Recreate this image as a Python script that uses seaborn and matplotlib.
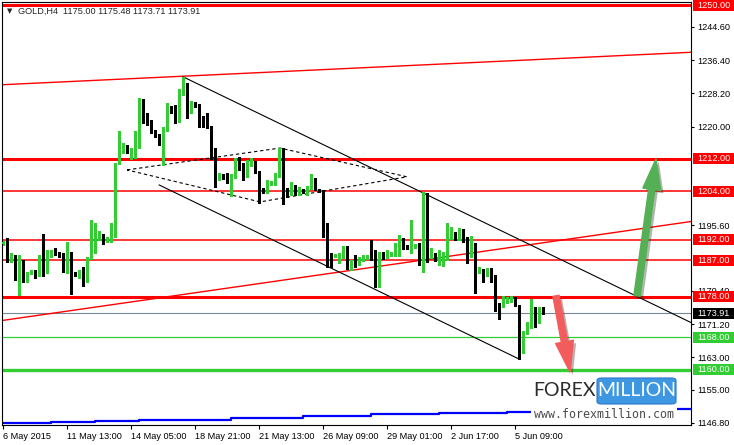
import matplotlib
matplotlib.use("Agg")
import numpy as np
import pandas as pd
import matplotlib.pyplot as plt
import matplotlib.transforms as mtransforms
import matplotlib.patheffects as pe
from matplotlib.patches import FancyArrowPatch, Rectangle, FancyBboxPatch
import seaborn as sns

# GOLD H4 candles, 6 May - 5 Jun 2015
opens = [1191.0, 1191.6, 1187.0, 1187.9, 1182.5, 1185.6, 1182.8, 1183.8, 1184.3, 1183.1,
         1185.8, 1185.8, 1187.9, 1189.5, 1188.9, 1188.7, 1185.2, 1188.9, 1183.9, 1183.1,
         1185.0, 1181.7, 1187.5, 1190.8, 1192.2, 1192.8, 1191.8, 1191.8, 1192.8, 1210.9,
         1214.6, 1215.2, 1213.6, 1214.1, 1216.3, 1224.9, 1222.9, 1220.8, 1219.0, 1217.9,
         1215.7, 1219.0, 1224.3, 1224.0, 1221.5, 1228.8, 1229.0, 1223.4, 1225.6, 1225.3,
         1222.5, 1222.5, 1220.0, 1214.4, 1207.0, 1208.1, 1208.3, 1206.2, 1207.5, 1211.6,
         1209.7, 1209.1, 1210.5, 1211.3, 1208.9, 1204.5, 1203.9, 1205.8, 1206.0, 1207.8,
         1214.4, 1204.3, 1203.5, 1205.3, 1203.7, 1204.5, 1203.7, 1205.0, 1207.0, 1204.5,
         1204.2, 1193.8, 1188.3, 1187.9, 1186.6, 1188.0, 1190.4, 1185.3, 1186.4, 1186.1,
         1187.1, 1187.5, 1188.0, 1187.5, 1181.3, 1188.9, 1187.7, 1188.3, 1188.7, 1189.7,
         1192.0, 1190.5, 1189.1, 1190.2, 1190.8, 1187.1, 1203.7, 1188.3, 1188.5, 1187.5,
         1187.5, 1187.5, 1192.4, 1193.6, 1192.4, 1194.3, 1192.4, 1188.0, 1189.5, 1183.9,
         1184.7, 1183.4, 1184.6, 1182.9, 1175.9, 1175.7, 1176.5, 1177.0, 1177.8, 1175.9,
         1165.0, 1169.0, 1170.4, 1174.5, 1172.9, 1175.00]
highs = [1191.8, 1192.4, 1188.7, 1188.3, 1188.3, 1187.1, 1184.2, 1184.6, 1184.6, 1188.3,
         1193.5, 1189.5, 1189.5, 1189.9, 1189.1, 1188.9, 1191.6, 1189.1, 1184.2, 1184.6,
         1185.4, 1187.7, 1196.9, 1196.1, 1194.1, 1193.5, 1192.7, 1196.1, 1211.1, 1218.8,
         1215.9, 1215.4, 1214.6, 1218.8, 1227.0, 1226.8, 1223.3, 1221.6, 1219.2, 1218.2,
         1219.8, 1225.9, 1225.1, 1225.3, 1229.2, 1232.3, 1230.7, 1226.2, 1226.0, 1225.5,
         1222.6, 1223.4, 1220.1, 1214.6, 1208.5, 1208.3, 1208.5, 1208.3, 1212.2, 1212.6,
         1210.9, 1211.8, 1212.2, 1211.5, 1209.1, 1204.8, 1206.8, 1206.6, 1208.6, 1214.6,
         1214.6, 1204.8, 1206.2, 1205.6, 1205.2, 1204.7, 1205.3, 1208.3, 1207.2, 1204.7,
         1204.3, 1196.1, 1188.7, 1188.5, 1188.7, 1190.4, 1190.5, 1187.1, 1188.3, 1187.9,
         1188.3, 1188.2, 1192.0, 1189.5, 1189.1, 1189.1, 1189.4, 1189.0, 1191.2, 1193.2,
         1192.4, 1190.7, 1196.9, 1191.0, 1191.2, 1203.9, 1203.7, 1189.9, 1188.7, 1189.5,
         1189.1, 1196.1, 1195.1, 1194.0, 1194.9, 1194.6, 1192.8, 1193.0, 1191.2, 1185.4,
         1184.9, 1185.0, 1185.0, 1183.3, 1176.4, 1178.2, 1178.0, 1178.2, 1178.0, 1175.9,
         1169.4, 1171.8, 1177.3, 1175.4, 1175.4, 1175.48]
lows = [1190.8, 1186.6, 1186.6, 1182.1, 1178.4, 1181.7, 1181.7, 1183.6, 1182.5, 1183.0,
        1183.0, 1183.8, 1187.7, 1188.3, 1187.9, 1184.2, 1183.8, 1178.7, 1183.0, 1182.5,
        1180.6, 1181.5, 1187.2, 1188.7, 1192.0, 1191.0, 1191.6, 1191.6, 1192.7, 1210.8,
        1213.6, 1213.4, 1211.9, 1212.2, 1214.6, 1220.8, 1220.4, 1218.3, 1217.5, 1215.5,
        1210.5, 1218.8, 1223.3, 1220.8, 1221.2, 1227.8, 1222.0, 1223.3, 1224.9, 1220.0,
        1220.0, 1219.6, 1211.9, 1205.2, 1206.8, 1207.0, 1206.0, 1202.9, 1207.2, 1209.3,
        1206.8, 1207.6, 1210.3, 1208.5, 1201.2, 1203.5, 1203.5, 1205.6, 1205.6, 1207.6,
        1201.0, 1202.7, 1203.1, 1203.1, 1203.1, 1203.5, 1203.1, 1204.5, 1204.3, 1203.9,
        1192.8, 1185.4, 1185.3, 1187.7, 1186.4, 1187.5, 1184.8, 1184.6, 1185.4, 1185.8,
        1186.9, 1187.2, 1187.1, 1180.5, 1180.3, 1187.3, 1187.5, 1188.1, 1188.0, 1188.0,
        1189.7, 1189.8, 1188.9, 1190.0, 1185.8, 1184.2, 1186.6, 1187.5, 1186.9, 1185.8,
        1185.6, 1187.1, 1192.2, 1192.0, 1192.0, 1191.6, 1186.4, 1187.9, 1179.0, 1183.8,
        1181.5, 1183.1, 1181.7, 1174.5, 1172.6, 1175.4, 1176.4, 1176.8, 1175.7, 1162.5,
        1164.0, 1168.8, 1170.2, 1170.4, 1171.4, 1173.71]
closes = [1191.6, 1187.0, 1188.7, 1182.5, 1185.6, 1182.8, 1184.2, 1184.3, 1183.1, 1185.8,
          1185.7, 1189.1, 1189.1, 1188.7, 1188.2, 1185.4, 1188.9, 1183.8, 1183.6, 1184.2,
          1181.7, 1187.5, 1191.2, 1192.4, 1193.6, 1191.6, 1192.4, 1193.1, 1210.9, 1214.9,
          1215.4, 1213.6, 1214.4, 1216.3, 1224.9, 1222.6, 1220.6, 1218.8, 1217.8, 1215.7,
          1219.0, 1224.3, 1223.5, 1221.5, 1229.0, 1229.0, 1222.3, 1225.3, 1225.1, 1220.1,
          1220.1, 1219.8, 1214.4, 1207.5, 1207.8, 1207.2, 1206.2, 1207.5, 1211.6, 1209.6,
          1209.1, 1210.7, 1211.3, 1208.6, 1203.9, 1203.8, 1206.2, 1206.4, 1208.0, 1211.8,
          1203.9, 1203.5, 1205.8, 1203.9, 1204.5, 1203.7, 1205.2, 1206.8, 1204.5, 1204.2,
          1193.8, 1187.9, 1187.1, 1188.3, 1188.5, 1189.7, 1185.3, 1186.4, 1185.8, 1187.7,
          1187.9, 1188.0, 1187.2, 1181.3, 1188.9, 1187.5, 1188.9, 1188.9, 1189.9, 1192.0,
          1189.9, 1189.9, 1190.5, 1190.8, 1186.2, 1203.9, 1187.5, 1188.9, 1187.9, 1188.0,
          1187.9, 1192.7, 1193.6, 1192.2, 1194.3, 1191.8, 1188.0, 1189.5, 1184.2, 1184.7,
          1183.6, 1184.6, 1182.5, 1175.9, 1175.4, 1177.2, 1177.3, 1177.8, 1175.9, 1165.0,
          1169.4, 1171.4, 1174.5, 1172.9, 1174.7, 1173.91]

# time axis labels (bar index -> label)
xtick_pos = [0, 16, 32, 48, 64, 80, 96, 112, 128]
xtick_labels = ["6 May 2015", "11 May 13:00", "14 May 05:00", "18 May 21:00",
                "21 May 13:00", "26 May 09:00", "29 May 01:00", "2 Jun 17:00", "5 Jun 09:00"]
ytick_vals = [1146.80, 1155.00, 1163.00, 1171.20, 1179.40, 1195.60,
              1220.00, 1228.20, 1236.40, 1244.60]

# horizontal levels
level_prices = [1250.00, 1212.00, 1204.00, 1192.00, 1187.00, 1178.00, 1168.00, 1160.00]
level_colors = ["#ff0000"] * 6 + ["#32cd32"] * 2
level_widths = [2.2, 2.2, 1.1, 1.1, 1.1, 2.2, 0.9, 2.4]

# trend lines (bar index, price)
red_up_x, red_up_y = [-1, 173], [1230.3, 1238.4]
red_low_x, red_low_y = [-1, 173], [1172.0, 1196.7]
chan_top_x, chan_top_y = [45, 172], [1232.3, 1171.6]
chan_bot_x, chan_bot_y = [39, 129], [1205.6, 1162.6]
diamond_x = [31, 69.25, 101, 64.25, 31]
diamond_y = [1209.3, 1214.7, 1207.6, 1201.4, 1209.3]

# slow moving average (blue)
ma_x = [-1, 12, 23, 34, 46, 57, 75, 92, 109, 126, 145, 168, 173]
ma_y = [1146.8, 1147.05, 1147.25, 1147.45, 1147.65, 1148.0, 1148.5, 1148.9, 1149.2,
        1149.45, 1149.8, 1150.2, 1150.3]

# forecast arrows (tail, head)
green_arrow = [(158.5, 1178.2), (163.25, 1212.0)]
red_arrow = [(138.25, 1178.2), (141.75, 1159.4)]

sns.set_style("white")
plt.rcParams["font.family"] = ["Liberation Sans", "DejaVu Sans"]

W, H = 734, 445
fig = plt.figure(figsize=(W / 100, H / 100), dpi=100)
ax = fig.add_axes([2 / W, 1 - 425 / H, 689 / W, 423 / H])
ax.set_xlim(-0.25, 172)
ax.set_ylim(1146.3, 1250.77)

df = pd.DataFrame({"o": opens, "h": highs, "l": lows, "c": closes})
df["i"] = np.arange(len(df))
up = df["c"] >= df["o"]
cols = np.where(up, "#32cd32", "#000000")

# horizontal levels
for p, col, lw in zip(level_prices, level_colors, level_widths):
    ax.axhline(p, color=col, lw=lw, zorder=1)
ax.axhline(closes[-1], color="#778899", lw=0.8, zorder=1)

# trend lines
ax.plot(red_up_x, red_up_y, color="#ff0000", lw=1.0, zorder=1)
ax.plot(red_low_x, red_low_y, color="#ff0000", lw=1.0, zorder=1)
ax.plot(chan_top_x, chan_top_y, color="black", lw=0.8, zorder=1)
ax.plot(chan_bot_x, chan_bot_y, color="black", lw=0.8, zorder=1)
ax.plot(diamond_x, diamond_y, color="black", lw=0.8, ls=(0, (3, 2.5)), zorder=1)

sns.lineplot(x=ma_x, y=ma_y, ax=ax, color="#0000ff", lw=1.6, drawstyle="steps-post",
             zorder=1)

# candles
ax.vlines(df["i"], df["l"], df["h"], colors=cols, lw=0.75, antialiased=False, zorder=2)
body_lo = np.minimum(df["o"], df["c"])
body_h = np.maximum(np.abs(df["c"] - df["o"]), 0.25)
ax.bar(df["i"], body_h, bottom=body_lo, width=0.75, color=cols, linewidth=0,
       antialiased=False, zorder=3)

# arrows
for (tail, head), col in [(green_arrow, "#55b055"), (red_arrow, "#f25c5c")]:
    arr = FancyArrowPatch(tail, head, arrowstyle="simple,head_length=2.2,head_width=1.3,tail_width=0.45",
                          mutation_scale=10, color=col, shrinkA=0, shrinkB=0, zorder=6,
                          path_effects=[pe.SimplePatchShadow(offset=(2, -2), alpha=0.35),
                                        pe.Normal()])
    ax.add_patch(arr)

# axes styling
for s in ax.spines.values():
    s.set_color("black")
    s.set_linewidth(0.8)
ax.yaxis.tick_right()
ax.set_yticks(ytick_vals)
ax.set_yticklabels([f"{v:.2f}" for v in ytick_vals])
ax.set_xticks(xtick_pos)
ax.set_xticklabels(xtick_labels, ha="left")
ax.tick_params(axis="y", direction="out", length=2.5, width=0.8, pad=2,
               labelsize=6.6, colors="black", right=True, left=False)
ax.tick_params(axis="x", direction="out", length=3, width=0.8, pad=2,
               labelsize=6.6, colors="black", bottom=True)
ax.set_xlabel("")
ax.set_ylabel("")

# price boxes on the right scale
blend = mtransforms.blended_transform_factory(ax.transAxes, ax.transData)
box_x0 = (693 - 2) / 689
box_w = 41 / 689
half = 5.5 / 4.049
box_prices = level_prices + [closes[-1]]
box_colors = level_colors[:]
box_colors.append("#000000")
for p, col in zip(box_prices, box_colors):
    ax.add_patch(Rectangle((box_x0, p - half), box_w, 2 * half, transform=blend,
                           facecolor=col, edgecolor="none", clip_on=False, zorder=7))
    ax.text(box_x0 + 4 / 689, p, f"{p:.2f}", transform=blend, color="white",
            fontsize=6.6, va="center", ha="left", clip_on=False, zorder=8)

# header
fig.text(7 / W, 1 - 11 / H, "\u25bc", fontsize=5, family="DejaVu Sans", va="center")
fig.text(18 / W, 1 - 11 / H, "GOLD,H4  1175.00 1175.48 1173.71 1173.91",
         fontsize=6.6, va="center", ha="left")

# watermark
fig.patches.append(Rectangle((531 / W, 1 - 421 / H), 146 / W, 46 / H,
                             transform=fig.transFigure, facecolor="white",
                             edgecolor="none", zorder=5))
fig.text(533 / W, 1 - 390 / H, "FOREX", fontsize=14, family=["Lato", "DejaVu Sans"],
         color="#2b2b2b", va="center", ha="left", zorder=6)
fig.patches.append(FancyBboxPatch((597 / W, 1 - 404 / H), 79 / W, 26 / H,
                                  boxstyle="round,pad=0,rounding_size=0.006",
                                  transform=fig.transFigure, facecolor="#3d97e3",
                                  edgecolor="#2a78c8", lw=0.8, zorder=6))
fig.text(637 / W, 1 - 391 / H, "MILLION", fontsize=14, family=["Lato", "DejaVu Sans"],
         color="white", va="center", ha="center", zorder=7)
fig.text(534 / W, 1 - 414 / H, "www.forexmillion.com", fontsize=8.4,
         family="DejaVu Sans Mono", color="#4a4a4a", va="center", ha="left", zorder=7)

fig.savefig("out.png", dpi=100)
